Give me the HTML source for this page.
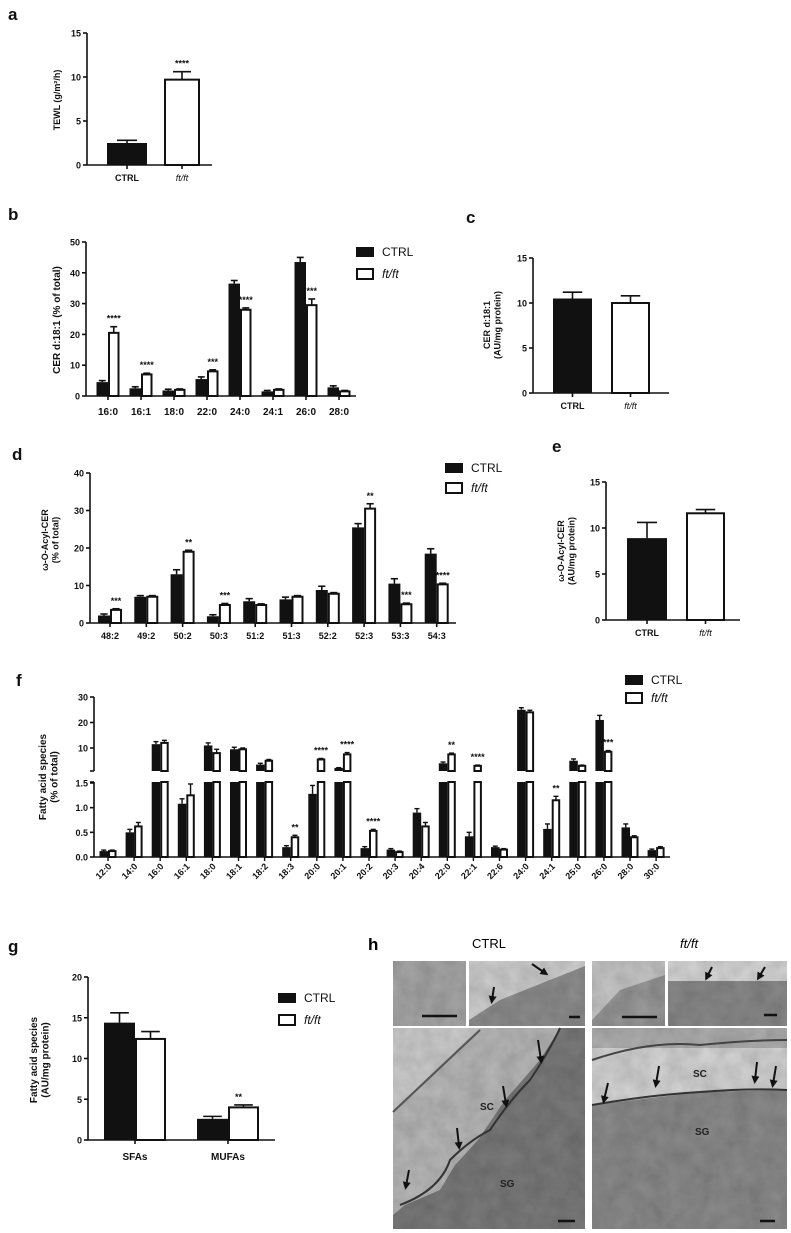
<!DOCTYPE html>
<html><head><meta charset="utf-8"><style>
body{margin:0;background:#fff}
svg{display:block;font-family:"Liberation Sans",Arial,sans-serif}
</style></head><body>
<svg id="fig" width="791" height="1233" viewBox="0 0 791 1233" xmlns="http://www.w3.org/2000/svg">
<defs>
<filter id="tex" x="0" y="0" width="100%" height="100%">
<feTurbulence type="fractalNoise" baseFrequency="0.06" numOctaves="3" seed="4" result="n"/>
<feColorMatrix in="n" type="matrix" values="0 0 0 0 0  0 0 0 0 0  0 0 0 0 0  0 0 0 0.35 0" result="a"/>
<feComposite in="a" in2="SourceGraphic" operator="in" result="b"/>
<feMerge><feMergeNode in="SourceGraphic"/><feMergeNode in="b"/></feMerge>
</filter>
<marker id="arr" viewBox="0 0 10 10" refX="5" refY="5" markerWidth="4" markerHeight="4" orient="auto"><path d="M0,0L10,5L0,10z" fill="#111"/></marker>
</defs>
<g id="micro">
<text x="368" y="950" font-size="17" font-weight="bold">h</text>
<text x="472" y="948" font-size="13">CTRL</text>
<text x="680" y="948" font-size="13" font-style="italic">ft/ft</text>
<g filter="url(#tex)">
<rect x="393" y="961" width="73" height="65" fill="#a8a8a8"/>
<rect x="469" y="961" width="116" height="65" fill="#8e8e8e"/>
<polygon points="469,961 585,961 585,966 500,1000 469,1020" fill="#d0d0d0"/>
<rect x="592" y="961" width="73" height="65" fill="#9a9a9a"/>
<polygon points="592,961 665,961 665,975 620,990 592,1020" fill="#c8c8c8"/>
<rect x="668" y="961" width="119" height="65" fill="#8a8a8a"/>
<rect x="668" y="961" width="119" height="20" fill="#d8d8d8"/>
<rect x="393" y="1028" width="192" height="201" fill="#7c7c7c"/>
<polygon points="393,1028 560,1028 540,1060 505,1100 478,1140 455,1165 440,1190 405,1205 393,1215" fill="#b9b9b9"/>
<polygon points="393,1028 480,1028 393,1110" fill="#cfcfcf"/>
<rect x="592" y="1028" width="195" height="201" fill="#8c8c8c"/>
<polygon points="592,1028 787,1028 787,1090 700,1092 592,1105" fill="#d6d6d6"/>
<rect x="592" y="1028" width="195" height="20" fill="#b0b0b0"/>
</g>
<path d="M393,1112 L480,1030" stroke="#555" stroke-width="2" fill="none"/>
<path d="M400,1205 Q440,1190 450,1160 Q470,1140 490,1130 Q510,1100 530,1080 Q550,1050 560,1028" stroke="#333" stroke-width="2" fill="none"/>
<path d="M592,1105 Q650,1095 700,1092 Q750,1088 787,1090" stroke="#333" stroke-width="2" fill="none"/>
<path d="M592,1060 Q650,1040 700,1045 Q750,1040 787,1040" stroke="#444" stroke-width="2" fill="none"/>
<g stroke="#111" stroke-width="2" marker-end="url(#arr)">
<line x1="538" y1="1040" x2="541" y2="1060"/><line x1="503" y1="1086" x2="506" y2="1104"/>
<line x1="457" y1="1128" x2="459" y2="1146"/><line x1="409" y1="1170" x2="406" y2="1186"/>
<line x1="608" y1="1083" x2="604" y2="1100"/><line x1="659" y1="1066" x2="656" y2="1084"/>
<line x1="757" y1="1062" x2="755" y2="1080"/><line x1="776" y1="1066" x2="773" y2="1084"/>
<line x1="532" y1="964" x2="545" y2="973"/><line x1="494" y1="987" x2="492" y2="1000"/>
<line x1="712" y1="967" x2="707" y2="977"/><line x1="765" y1="967" x2="759" y2="977"/>
</g>
<g font-size="10" font-weight="bold" fill="#222">
<text x="480" y="1110">SC</text><text x="500" y="1187">SG</text><text x="693" y="1077">SC</text><text x="695" y="1135">SG</text>
</g>
<g stroke="#111" stroke-width="2.5">
<line x1="422" y1="1016" x2="457" y2="1016"/><line x1="569" y1="1017" x2="580" y2="1017"/>
<line x1="622" y1="1017" x2="657" y2="1017"/><line x1="764" y1="1015" x2="777" y2="1015"/>
<line x1="558" y1="1221" x2="575" y2="1221"/><line x1="760" y1="1221" x2="775" y2="1221"/>
</g>
</g>
</svg>
<script>
// ---- data ----
const aCats = ["CTRL","ft/ft"];
const aVals = [2.5, 9.7];
const aErr = [2.8, 10.6];
const bCats = ["16:0","16:1","18:0","22:0","24:0","24:1","26:0","28:0"];
const bCtrl = [4.5, 2.5, 1.8, 5.5, 36.5, 1.5, 43.5, 2.8];
const bFt = [20.5, 7, 2, 8, 28, 2, 29.5, 1.5];
const bCtrlErr = [5, 3, 2.2, 6.2, 37.5, 1.8, 45, 3.3];
const bFtErr = [22.5, 7.4, 2.3, 8.5, 28.6, 2.3, 31.5, 1.8];
const bStars = ["****","****","","***","****","","***",""];
const cVals = [10.5, 10.0];
const cErr = [11.2, 10.8];
const dCats = ["48:2","49:2","50:2","50:3","51:2","51:3","52:2","52:3","53:3","54:3"];
const dCtrl = [2.0, 7.0, 13.0, 1.8, 5.8, 6.3, 8.8, 25.5, 10.5, 18.5];
const dFt = [3.5, 7.0, 19.0, 4.8, 4.8, 7.0, 7.8, 30.5, 5.0, 10.3];
const dCtrlErr = [2.4, 7.3, 14.2, 2.2, 6.5, 6.9, 9.8, 26.5, 11.8, 19.8];
const dFtErr = [3.8, 7.3, 19.4, 5.2, 5.1, 7.3, 8.1, 31.8, 5.3, 10.6];
const dStars = ["***","","**","***","","","","**","***","****"];
const eVals = [8.9, 11.6];
const eErr = [10.6, 12.0];
const fCats = ["12:0","14:0","16:0","16:1","18:0","18:1","18:2","18:3","20:0","20:1","20:2","20:3","20:4","22:0","22:1","22:6","24:0","24:1","25:0","26:0","28:0","30:0"];
const fCtrl = [0.12, 0.5, 11.5, 1.08, 11, 9.5, 3.5, 0.2, 1.28, 2.2, 0.18, 0.15, 0.9, 4, 0.42, 0.2, 25, 0.57, 5, 21, 0.6, 0.14];
const fFt = [0.12, 0.62, 12, 1.25, 8, 9.5, 5, 0.4, 5.5, 7.5, 0.53, 0.1, 0.62, 7.5, 3, 0.15, 24, 1.15, 3, 8.5, 0.4, 0.18];
const fCtrlErr = [0.14, 0.56, 12.5, 1.18, 12, 10.3, 4, 0.23, 1.45, 2.3, 0.21, 0.17, 0.98, 4.5, 0.5, 0.22, 25.8, 0.67, 5.7, 22.8, 0.67, 0.16];
const fFtErr = [0.14, 0.7, 13, 1.48, 9.5, 10, 5.5, 0.44, 5.9, 8.2, 0.56, 0.12, 0.7, 8, 3.3, 0.17, 24.8, 1.23, 3.3, 9, 0.43, 0.21];
const fStars = ["","","","","","","","**","****","****","****","","","**","****","","","**","","***","",""];
const gCats = ["SFAs","MUFAs"];
const gCtrl = [14.4, 2.6];
const gFt = [12.4, 4.0];
const gCtrlErr = [15.6, 2.9];
const gFtErr = [13.3, 4.3];
const gStars = ["","**"];

const NS = "http://www.w3.org/2000/svg";
const svg = document.getElementById('fig');
function mk(tag, attrs, parent){const e=document.createElementNS(NS,tag);for(const k in attrs)e.setAttribute(k,attrs[k]);(parent||svg).appendChild(e);return e;}
function ln(g,x1,y1,x2,y2,w){return mk('line',{x1,y1,x2,y2,stroke:'#111','stroke-width':w||1.6},g);}
function tx(g,x,y,s,o){const t=mk('text',Object.assign({x,y,'font-size':10,'font-weight':'bold','text-anchor':'middle',fill:'#111'},o||{}),g);t.textContent=s;return t;}
function grp(name){const g=mk('g',{});return g;}
function lin(d0,d1,p0,p1){return v=>p0+(v-d0)*(p1-p0)/(d1-d0);}
function bar(g,x,w,y0,y1,filled,name){
  const r=mk('rect',{x:filled?x:x+1,y:Math.min(y0,y1),width:filled?w:w-2,height:Math.abs(y1-y0),fill:filled?'#111':'#fff',stroke:'#111','stroke-width':filled?0:2},g);
  return r;}
function err(g,cx,ytop,yerr,w){ln(g,cx,ytop,cx,yerr,1.6);ln(g,cx-w/2,yerr,cx+w/2,yerr,1.6);}
function yAxis(g,x,y0,y1,ticks,ys,fmt){ln(g,x,y0,x,y1,1.6);ticks.forEach(t=>{const y=ys(t);ln(g,x-4,y,x,y,1.6);tx(g,x-6,y+3.5,fmt?fmt(t):String(t),{'text-anchor':'end','font-size':9});});}
function label(s,x,y){const t=tx(svg,x,y,s,{'font-size':17,'text-anchor':'start'});}
function ylab(g,lines,cx,cy,fs){lines.forEach((s,i)=>{const x=cx+i*(fs+1.5);const t=tx(g,x,cy,s,{'font-size':fs,transform:`rotate(-90 ${x} ${cy})`});});}
function legend(g,x,y,gap){bar(g,x,18,y-5,y+5,true,'legend-swatch-ctrl');bar(g,x,18,y+gap-5,y+gap+5,false,'legend-swatch-ftft');
  tx(g,x+26,y+4,'CTRL',{'text-anchor':'start','font-weight':'normal','font-size':12});tx(g,x+26,y+gap+4,'ft/ft',{'text-anchor':'start','font-weight':'normal','font-style':'italic','font-size':12});}

function pairPanel(name,ax,y0,ytop,x1,vals,errs,bars,stars){
  const g=grp(name);const ys=lin(0,15,y0,ytop);
  yAxis(g,ax,y0,ytop,[0,5,10,15],ys);ln(g,ax,y0,x1,y0,1.6);
  bars.forEach((b,i)=>{bar(g,b[0],b[1]-b[0],y0,ys(vals[i]),i===0,'bar-'+(i===0?'ctrl':'ftft'));err(g,(b[0]+b[1])/2,ys(vals[i]),ys(errs[i]),(b[1]-b[0])/2);
    ln(g,(b[0]+b[1])/2,y0,(b[0]+b[1])/2,y0+4,1.6);
    tx(g,(b[0]+b[1])/2,y0+16,aCats[i],i===1?{'font-style':'italic','font-weight':'normal','font-size':9}:{'font-size':9});
    if(stars&&stars[i])tx(g,(b[0]+b[1])/2,ys(errs[i])-5,stars[i],{'font-size':9});});
  return g;}
label('a',8,20);
const ga=pairPanel('panel-a-tewl',87,165,33,212,aVals,aErr,[[107,147],[164,200]],["","****"]);
ylab(ga,['TEWL (g/m²/h)'],60,100,9);
label('c',466,223);
const gc=pairPanel('panel-c-cer-total',533,393,258,669,cVals,cErr,[[553,592],[611,650]],null);
ylab(gc,['CER d:18:1','(AU/mg protein)'],490,325,9);
label('e',552,452);
const ge=pairPanel('panel-e-acylcer-total',606,620,482,740,eVals,eErr,[[627,667],[686,725]],null);
ylab(ge,['ω-O-Acyl-CER','(AU/mg protein)'],564,551,9);

function grouped(name,opt){
  const g=grp(name);const ys=opt.ys;
  yAxis(g,opt.ax,opt.y0,opt.ytop,opt.ticks,ys);ln(g,opt.ax,opt.y0,opt.x1,opt.y0,1.6);
  opt.cats.forEach((c,i)=>{const cx=opt.c0+i*opt.sp;const w=opt.bw;
    bar(g,cx-w,w,opt.y0,ys(opt.ctrl[i]),true,'bar-ctrl-'+c);err(g,cx-w/2,ys(opt.ctrl[i]),ys(opt.ce[i]),w*0.6);
    bar(g,cx,w,opt.y0,ys(opt.ft[i]),false,'bar-ftft-'+c);err(g,cx+w/2,ys(opt.ft[i]),ys(opt.fe[i]),w*0.6);
    ln(g,cx,opt.y0,cx,opt.y0+4,1.6);
    tx(g,cx,opt.y0+(opt.lblDy||17),c,{'font-size':opt.fs||10});
    if(opt.stars[i])tx(g,cx+w/2+(opt.sdx||0),ys(opt.fe[i])-5,opt.stars[i],{'font-size':9});});
  return g;}
label('b',8,220);
const gb=grouped('panel-b-cer-species',{ax:86,y0:396,ytop:242,x1:356,ys:lin(0,50,396,242),ticks:[0,10,20,30,40,50],cats:bCats,ctrl:bCtrl,ft:bFt,ce:bCtrlErr,fe:bFtErr,stars:bStars,c0:108,sp:33,bw:11.5,lblDy:19});
ylab(gb,['CER d:18:1 (% of total)'],60,320,10);
legend(gb,356,252,22);
label('d',12,460);
const gd=grouped('panel-d-acylcer-species',{ax:90,y0:623,ytop:473,x1:456,ys:lin(0,40,623,473),ticks:[0,10,20,30,40],cats:dCats,ctrl:dCtrl,ft:dFt,ce:dCtrlErr,fe:dFtErr,stars:dStars,c0:110,sp:36.3,bw:12,lblDy:16,fs:9});
ylab(gd,['ω-O-Acyl-CER','(% of total)'],48,540,9);
legend(gd,445,468,20);
label('g',8,952);
const gg=grouped('panel-g-fa-classes',{ax:88,y0:1140,ytop:977,x1:275,ys:lin(0,20,1140,977),ticks:[0,5,10,15,20],cats:gCats,ctrl:gCtrl,ft:gFt,ce:gCtrlErr,fe:gFtErr,stars:gStars,c0:135,sp:93,bw:31,lblDy:20,sdx:-5});
ylab(gg,['Fatty acid species','(AU/mg protein)'],37,1060,10);
legend(gg,278,998,22);

// panel f broken axis
label('f',16,686);
(function(){
  const g=grp('panel-f-fatty-acids');
  const yLow=lin(0,1.5,857,783), yUp=lin(10,30,748,697);
  const BRK_LO=782, BRK_HI=771, ax=94;
  ln(g,ax,857,ax,BRK_LO,1.6);ln(g,ax,BRK_HI,ax,697,1.6);ln(g,ax,857,670,857,1.6);
  ln(g,ax-4,BRK_LO,ax,BRK_LO,1.6);ln(g,ax-4,BRK_HI,ax,BRK_HI,1.6);
  [0,0.5,1.0,1.5].forEach(t=>{const y=yLow(t);ln(g,ax-4,y,ax,y,1.6);tx(g,ax-6,y+3.5,t.toFixed(1),{'text-anchor':'end','font-size':9});});
  [10,20,30].forEach(t=>{const y=yUp(t);ln(g,ax-4,y,ax,y,1.6);tx(g,ax-6,y+3.5,String(t),{'text-anchor':'end','font-size':9});});
  function yv(v){return v<=1.5?yLow(v):Math.min(yUp(v),BRK_HI);}
  function fbar(cx,w,v,e,filled,name){
    if(v<=1.5){bar(g,cx,w,857,yLow(v),filled,name);}
    else{bar(g,cx,w,857,BRK_LO,filled,name);bar(g,cx,w,BRK_HI,yv(v),filled,name+'-upper');}
    const xc=cx+w/2;const yt=yv(v),ye=e<=1.5?yLow(e):yv(e);ln(g,xc,yt,xc,ye,1.4);ln(g,xc-2.5,ye,xc+2.5,ye,1.4);}
  const c0=108, sp=26.1, w=8.5;
  fCats.forEach((c,i)=>{const cx=c0+i*sp;
    fbar(cx-w,w,fCtrl[i],fCtrlErr[i],true,'bar-ctrl-'+c);
    fbar(cx,w,fFt[i],fFtErr[i],false,'bar-ftft-'+c);
    ln(g,cx,857,cx,861,1.4);
    const lx=cx+4, ly=867;
    tx(g,lx,ly,c,{'font-size':9,'text-anchor':'end',transform:`rotate(-45 ${lx} ${ly})`});
    if(fStars[i]){const e=fFtErr[i];tx(g,cx+w/2,(e<=1.5?yLow(e):yv(e))-5,fStars[i],{'font-size':9});}
  });
  ylab(g,['Fatty acid species','(% of total)'],46,777,10);
  legend(g,625,680,18);
})();
</script>
</body></html>
